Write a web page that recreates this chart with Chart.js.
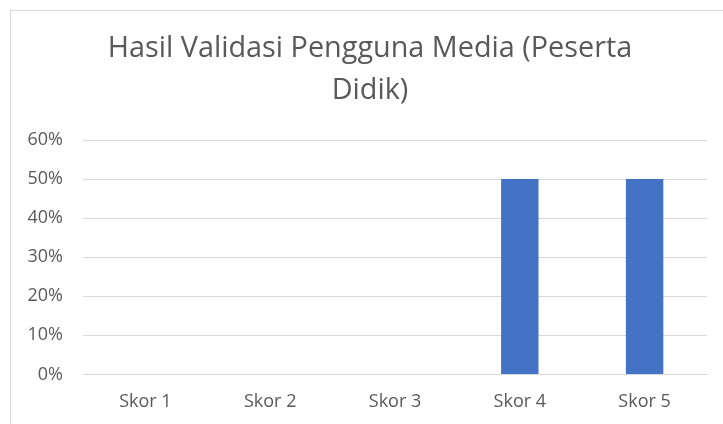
<!DOCTYPE html>
<html>
<head>
<meta charset="utf-8">
<script src="https://cdn.jsdelivr.net/npm/chart.js@4"></script>
<style>
  html, body { margin: 0; padding: 0; background: #fff; }
  #frame { position: absolute; left: 10px; top: 10px; width: 740px; height: 440px;
           border-left: 1px solid #d9d9d9; border-top: 1px solid #d9d9d9; }
  #wrap { position: absolute; left: 0; top: 0; width: 723px; height: 424px; }
</style>
</head>
<body>
<div id="frame"></div>
<div id="wrap"><canvas id="validasiChart"></canvas></div>
<script>
const categories = ['Skor 1', 'Skor 2', 'Skor 3', 'Skor 4', 'Skor 5'];
const percentValues = [0, 0, 0, 50, 50];
const titleLines = ['Hasil Validasi Pengguna Media (Peserta', 'Didik)'];

const ctx = document.getElementById('validasiChart').getContext('2d');

new Chart(ctx, {
    type: 'bar',
    data: {
        labels: categories,
        datasets: [{
            data: percentValues,
            backgroundColor: '#4472c4',
            borderWidth: 0,
            barPercentage: 1,
            categoryPercentage: 0.3
        }]
    },
    options: {
        responsive: true,
        maintainAspectRatio: false,
        animation: false,
        layout: { padding: { left: 17, right: 0, top: 0, bottom: 11 } },
        plugins: {
            legend: { display: false },
            tooltip: { enabled: false },
            title: {
                display: true,
                text: titleLines,
                color: '#595959',
                font: { family: 'Open Sans', size: 28.8, weight: 'normal', lineHeight: 42 / 28.8 },
                padding: { top: 28, bottom: 28 }
            }
        },
        scales: {
            x: {
                // grid hidden, tickLength only used as spacing under the axis
                grid: { display: false, tickLength: 17 },
                border: { display: true, color: '#d9d9d9' },
                ticks: { color: '#595959', font: { family: 'Open Sans', size: 18 }, padding: 0 }
            },
            y: {
                min: 0,
                max: 60,
                grid: { color: '#d9d9d9', drawTicks: false },
                border: { display: false },
                ticks: {
                    stepSize: 10,
                    color: '#595959',
                    font: { family: 'Open Sans', size: 18 },
                    padding: 20,
                    callback: v => v + '%'
                },
                afterFit: scale => { scale.width = 66; }
            },
            // empty right axis, only keeps a margin so the title centre matches
            yRight: {
                position: 'right',
                grid: { display: false },
                border: { display: false },
                ticks: { display: false },
                afterFit: scale => { scale.width = 16; }
            }
        }
    }
});
</script>
</body>
</html>
